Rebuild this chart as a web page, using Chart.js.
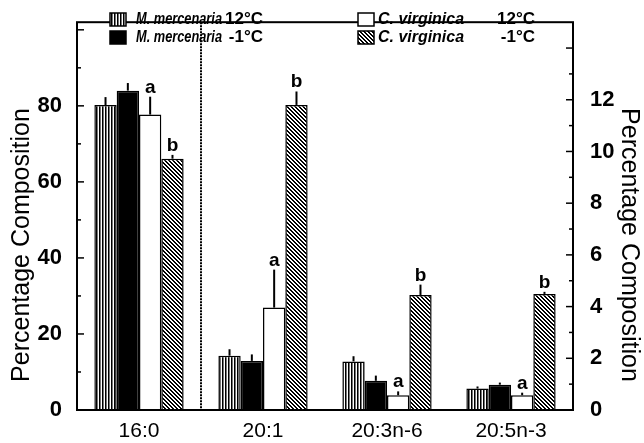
<!DOCTYPE html>
<html>
<head>
<meta charset="utf-8">
<script src="https://cdn.jsdelivr.net/npm/chart.js@4/dist/chart.umd.min.js"></script>
<style>
  html, body { margin: 0; padding: 0; background: #fff; }
  #wrap { width: 644px; height: 443px; }
</style>
</head>
<body>
<div id="wrap"><canvas id="fattyChart" width="644" height="443"></canvas></div>
<script>
const categories = ["16:0", "20:1", "20:3n-6", "20:5n-3"];

// 16:0 is read on the left axis, the other acids on the right one
const mercWarm = [80.2, 2.1, 1.88, 0.83];
const mercCold = [84.0, 1.9, 1.13, 0.98];
const virgWarm = [77.7, 3.96, 0.57, 0.57];
const virgCold = [66.1, 11.8, 4.45, 4.49];

const mercWarmErr = [2.1, 0.25, 0.2, 0.08];
const mercColdErr = [2.0, 0.25, 0.2, 0.08];
const virgWarmErr = [4.7, 1.47, 0.15, 0.1];
const virgColdErr = [1.0, 0.52, 0.4, 0.08];

const virgWarmMark = ["a", "a", "a", "a"];
const virgColdMark = ["b", "b", "b", "b"];

const leftTicks = [0, 20, 40, 60, 80];
const rightTicks = [0, 2, 4, 6, 8, 10, 12];

function makePattern(size, paint) {
  const c = document.createElement("canvas");
  c.width = size;
  c.height = size;
  const g = c.getContext("2d");
  g.fillStyle = "#fff";
  g.fillRect(0, 0, size, size);
  paint(g, size);
  return g.createPattern(c, "repeat");
}

const stripes = makePattern(3, (g, n) => {
  g.fillStyle = "#000";
  g.fillRect(0, 0, 1, n);
  g.fillStyle = "#777";
  g.fillRect(1, 0, 1, n);
});
const hatch = makePattern(4, (g, n) => {
  g.fillStyle = "#000";
  for (let i = 0; i < n; i++) {
    g.fillRect(i, i, 1, 1);
    g.fillRect((i + 1) % n, i, 1, 1);
  }
});

const series = [
  { name: "M. mercenaria", temp: "12°C", values: mercWarm, err: mercWarmErr, marks: null, fill: stripes, stack: "mw" },
  { name: "M. mercenaria", temp: "-1°C", values: mercCold, err: mercColdErr, marks: null, fill: "#000", stack: "mc" },
  { name: "C. virginica", temp: "12°C", values: virgWarm, err: virgWarmErr, marks: virgWarmMark, fill: "#fff", stack: "vw" },
  { name: "C. virginica", temp: "-1°C", values: virgCold, err: virgColdErr, marks: virgColdMark, fill: hatch, stack: "vc" }
];

// each series is split in two datasets: first category on yLeft, the rest on yRight
const datasets = [];
series.forEach((s) => {
  ["yLeft", "yRight"].forEach((axis) => {
    const data = s.values.map((v, i) => (axis === "yLeft") === (i === 0) ? v : null);
    datasets.push({
      label: s.name + " " + s.temp,
      data: data,
      yAxisID: axis,
      stack: s.stack,
      backgroundColor: s.fill,
      borderColor: "#000",
      borderWidth: 1.5,
      borderSkipped: "bottom",
      categoryPercentage: 0.72,
      barPercentage: 1.0,
      errors: s.err,
      marks: s.marks
    });
  });
});

const FONT = "'Liberation Sans', Arial, sans-serif";

const decorations = {
  id: "decorations",
  afterDatasetsDraw(chart) {
    const ctx = chart.ctx;
    ctx.save();
    ctx.strokeStyle = "#000";
    ctx.fillStyle = "#000";
    ctx.lineWidth = 2;
    chart.data.datasets.forEach((ds, di) => {
      const meta = chart.getDatasetMeta(di);
      const scale = chart.scales[ds.yAxisID];
      meta.data.forEach((bar, i) => {
        const v = ds.data[i];
        if (v === null) return;
        const yTop = scale.getPixelForValue(v + ds.errors[i]);
        ctx.beginPath();
        ctx.moveTo(bar.x, bar.y);
        ctx.lineTo(bar.x, yTop);
        ctx.stroke();
        if (ds.marks) {
          ctx.font = "bold 19px " + FONT;
          ctx.textAlign = "center";
          ctx.textBaseline = "alphabetic";
          ctx.fillText(ds.marks[i], bar.x, yTop - 4);
        }
      });
    });
    ctx.restore();
  },
  afterDraw(chart) {
    const ctx = chart.ctx;
    const { left, right, top, bottom } = chart.chartArea;
    const x = chart.scales.x;
    const yl = chart.scales.yLeft;
    const yr = chart.scales.yRight;
    ctx.save();
    ctx.strokeStyle = "#000";
    ctx.fillStyle = "#000";

    // dotted line between 16:0 and the rest
    const sep = (x.getPixelForValue(0) + x.getPixelForValue(1)) / 2;
    ctx.lineWidth = 2;
    ctx.setLineDash([2, 1]);
    ctx.beginPath();
    ctx.moveTo(sep, top);
    ctx.lineTo(sep, bottom);
    ctx.stroke();
    ctx.setLineDash([]);

    // inward tick marks
    ctx.lineWidth = 1.5;
    yl.ticks.forEach((t) => {
      const y = yl.getPixelForValue(t.value);
      const len = t.value % 20 === 0 ? 7 : 4;
      ctx.beginPath();
      ctx.moveTo(left, y);
      ctx.lineTo(left + len, y);
      ctx.stroke();
    });
    yr.ticks.forEach((t) => {
      const y = yr.getPixelForValue(t.value);
      const len = t.value % 2 === 0 ? 7 : 4;
      ctx.beginPath();
      ctx.moveTo(right, y);
      ctx.lineTo(right - len, y);
      ctx.stroke();
    });

    // frame
    ctx.lineWidth = 2;
    ctx.strokeRect(left, top, right - left, bottom - top);

    // axis titles
    ctx.font = "25px " + FONT;
    ctx.textAlign = "center";
    ctx.textBaseline = "middle";
    ctx.save();
    ctx.translate(22, 245);
    ctx.rotate(-Math.PI / 2);
    ctx.fillText("Percentage Composition", 0, 0);
    ctx.restore();
    ctx.save();
    ctx.translate(629, 245);
    ctx.rotate(Math.PI / 2);
    ctx.fillText("Percentage Composition", 0, 0);
    ctx.restore();

    // legend, two columns
    const cols = [110, 358];
    const rows = [19, 37];
    const textX = [136, 378];
    const textW = [86, 86];
    const tempEnd = [263, 535];
    series.forEach((s, i) => {
      const col = i < 2 ? 0 : 1;
      const row = i % 2;
      const sx = cols[col];
      const sy = rows[row];
      ctx.fillStyle = s.fill;
      ctx.fillRect(sx, sy - 6, 16, 13);
      ctx.lineWidth = 1.5;
      ctx.strokeRect(sx, sy - 6, 16, 13);
      ctx.fillStyle = "#000";
      ctx.textBaseline = "middle";
      ctx.textAlign = "left";
      ctx.font = "italic bold 17px " + FONT;
      ctx.fillText(s.name, textX[col], sy, textW[col]);
      ctx.textAlign = "right";
      ctx.font = "bold 17px " + FONT;
      ctx.fillText(s.temp, tempEnd[col], sy);
    });
    ctx.restore();
  }
};

const ctx = document.getElementById("fattyChart").getContext("2d");
new Chart(ctx, {
  type: "bar",
  data: { labels: categories, datasets: datasets },
  options: {
    responsive: false,
    animation: false,
    layout: { padding: { top: 13, left: 0, right: 0, bottom: 0 } },
    plugins: {
      legend: { display: false },
      tooltip: { enabled: false }
    },
    scales: {
      x: {
        grid: { display: false },
        border: { display: false },
        ticks: { color: "#000", font: { family: FONT, size: 21 }, padding: 1 },
        afterFit: (scale) => { scale.height = 33; }
      },
      yLeft: {
        position: "left",
        min: 0,
        max: 102,
        grid: { display: false },
        border: { display: false },
        afterBuildTicks: (scale) => {
          scale.ticks = [];
          for (let v = 0; v <= 100; v += 10) scale.ticks.push({ value: v });
        },
        ticks: {
          color: "#000",
          autoSkip: false,
          padding: 7,
          font: { family: FONT, size: 22, weight: "bold" },
          callback: (v) => leftTicks.includes(v) ? v : ""
        },
        afterFit: (scale) => { scale.width = 77; }
      },
      yRight: {
        position: "right",
        min: 0,
        max: 15,
        grid: { display: false },
        border: { display: false },
        afterBuildTicks: (scale) => {
          scale.ticks = [];
          for (let v = 0; v <= 14; v += 1) scale.ticks.push({ value: v });
        },
        ticks: {
          color: "#000",
          autoSkip: false,
          padding: 9,
          font: { family: FONT, size: 22, weight: "bold" },
          callback: (v) => rightTicks.includes(v) ? v : ""
        },
        afterFit: (scale) => { scale.width = 71; }
      }
    }
  },
  plugins: [decorations]
});
</script>
</body>
</html>
